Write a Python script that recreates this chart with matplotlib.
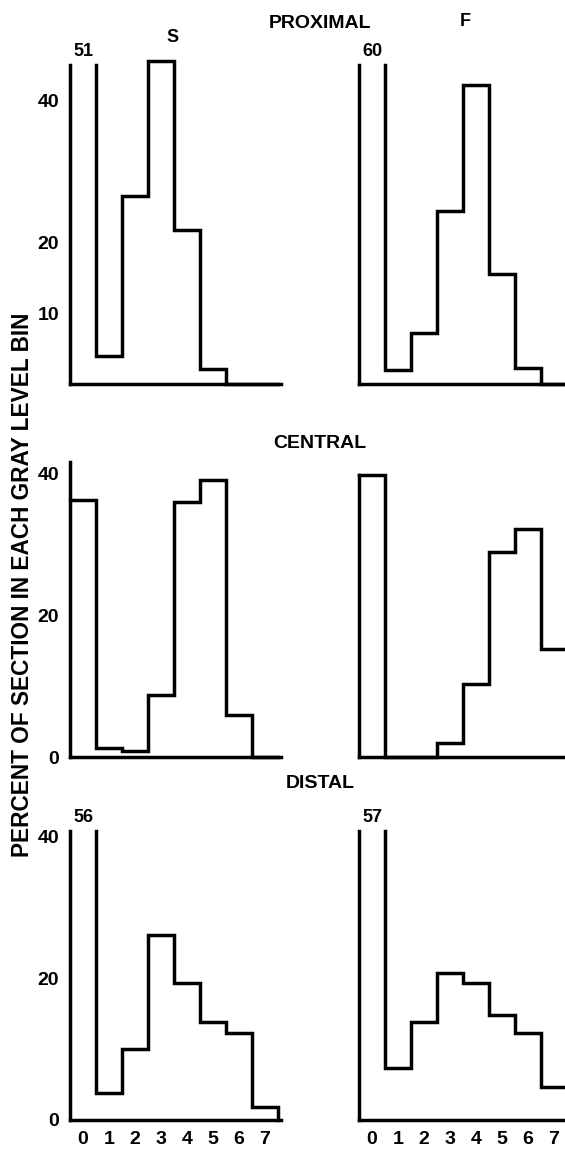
import numpy as np
import matplotlib
matplotlib.use("Agg")
import matplotlib.pyplot as plt

plt.rcParams['font.family'] = ['Liberation Sans', 'DejaVu Sans']
plt.rcParams['font.weight'] = 'bold'

# percent of section in each gray level bin (bins 0..7)
bins = [0, 1, 2, 3, 4, 5, 6, 7]
prox_s = [51, 3.9, 26.5, 45.6, 21.8, 2.1, 0, 0]
prox_f = [60, 2.0, 7.2, 24.5, 42.3, 15.6, 2.2, 0]
cent_s = [36.3, 1.3, 0.8, 8.8, 36.0, 39.1, 5.9, 0]
cent_f = [39.8, 0, 0, 2.0, 10.3, 29.0, 32.2, 15.3]
dist_s = [56, 3.8, 10.0, 26.2, 19.3, 13.9, 12.3, 1.9]
dist_f = [57, 7.3, 13.9, 20.7, 19.3, 14.8, 12.3, 4.6]

# how far up the y axis line is drawn in each panel (bars above it are cut)
axis_top = [45.0, 45.0, 41.7, 39.8, 40.8, 40.8]

ytick_sets = [[10, 20, 40], [0, 20, 40], [0, 20, 40]]
rows = ["PROXIMAL", "CENTRAL", "DISTAL"]

W, H = 565, 1150
fig = plt.figure(figsize=(W / 100, H / 100), dpi=100)

unit = 7.08      # px per percent
binw = 26.0      # px per bin
ymax = 48
xmax = 8.1
baselines = [384, 757, 1120]
lefts = [70, 359]
LW = 2.5


def make_ax(x0, base):
    top = base - ymax * unit
    ax = fig.add_axes([x0 / W, 1 - base / H, xmax * binw / W, (base - top) / H])
    ax.set_xlim(0, xmax)
    ax.set_ylim(0, ymax)
    ax.patch.set_alpha(0)
    for s in ["top", "right"]:
        ax.spines[s].set_visible(False)
    for s in ["left", "bottom"]:
        ax.spines[s].set_linewidth(LW)
        ax.spines[s].set_capstyle("projecting")
    ax.tick_params(length=0, labelsize=14, pad=8)
    return ax


def draw_hist(ax, vals, ytop):
    v = np.asarray(vals, dtype=float)
    edges = np.arange(len(v) + 1)
    xs = np.repeat(edges[1:], 2)
    ys = np.empty_like(xs, dtype=float)
    ys[0::2] = np.concatenate([[v[0]], v[1:]])
    ys[1::2] = np.concatenate([v[1:], [0]])
    ax.spines["left"].set_bounds(0, ytop)
    if v[0] <= ytop:
        xs = np.concatenate([[0], xs])
        ys = np.concatenate([[v[0]], ys])
    else:
        # bin 0 runs off the top: cut it and write its value above
        ys[0] = ytop
        ax.annotate(f"{v[0]:g}", (0.5, ytop), xytext=(0, 4), textcoords="offset points",
                    ha="center", va="bottom", fontsize=13, fontweight="bold",
                    annotation_clip=False)
    ax.plot(xs, ys, color="black", lw=LW, solid_joinstyle="miter",
            solid_capstyle="projecting", clip_on=False)


data = [prox_s, prox_f, cent_s, cent_f, dist_s, dist_f]
for i, vals in enumerate(data):
    r, c = divmod(i, 2)
    ax = make_ax(lefts[c], baselines[r])
    draw_hist(ax, vals, axis_top[i])
    if c == 0:
        ax.set_yticks(ytick_sets[r])
    else:
        ax.set_yticks([])
    if r == 2:
        ax.set_xticks(np.array(bins) + 0.5)
        ax.set_xticklabels([str(b) for b in bins])
    else:
        ax.set_xticks([])
    for lab in ax.get_xticklabels() + ax.get_yticklabels():
        lab.set_fontweight("bold")

title_y = [23, 444, 784]
for name, ty in zip(rows, title_y):
    fig.text(320 / W, 1 - ty / H, name, ha="center", va="center",
             fontsize=14, fontweight="bold")

fig.text(173 / W, 1 - 38 / H, "S", ha="center", va="center", fontsize=13, fontweight="bold")
fig.text(465 / W, 1 - 22 / H, "F", ha="center", va="center", fontsize=13, fontweight="bold")

ylab = fig.text(23 / W, 1 - 585 / H, "PERCENT OF SECTION IN EACH GRAY LEVEL BIN",
                rotation=90, ha="center", va="center", fontsize=14, fontweight="bold")
# fit label length to the span it has in the original (~545 px)
fig.canvas.draw()
ext = ylab.get_window_extent()
ylab.set_fontsize(14 * 545 / ext.height)

fig.savefig("out.png", dpi=100)
